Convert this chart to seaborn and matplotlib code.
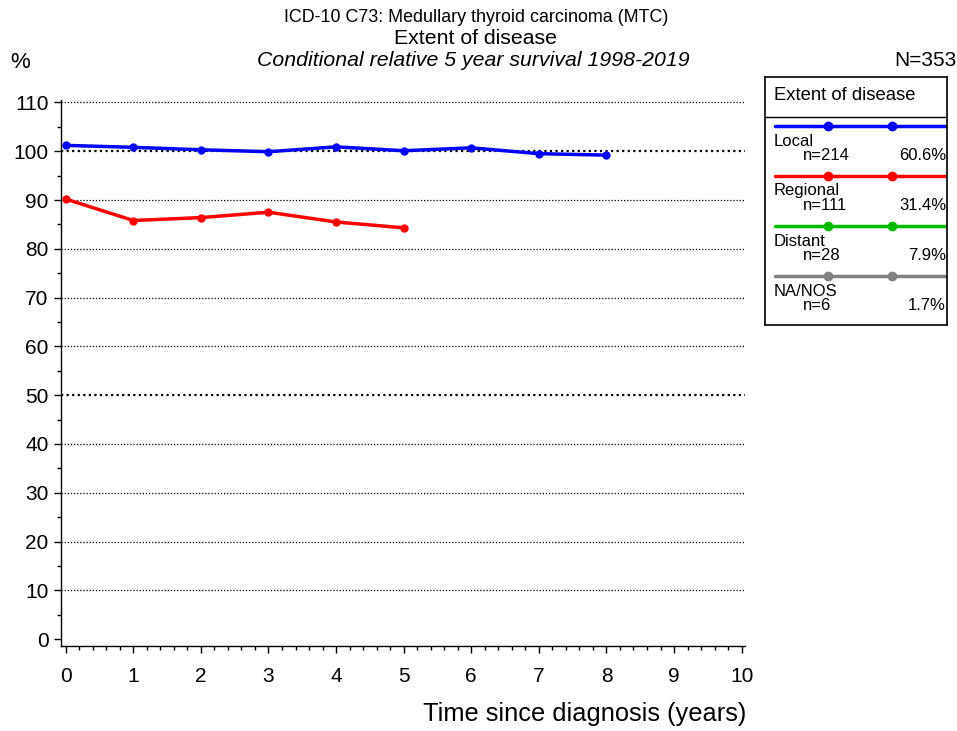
import pandas as pd
import matplotlib.pyplot as plt
import seaborn as sns
from matplotlib.ticker import MultipleLocator

# values
years = [0, 1, 2, 3, 4, 5, 6, 7, 8]
local = [101.2, 100.8, 100.3, 99.9, 100.9, 100.1, 100.7, 99.5, 99.2]
regional = [90.2, 85.8, 86.4, 87.5, 85.5, 84.3]

groups = ['Local', 'Regional', 'Distant', 'NA/NOS']
counts = [214, 111, 28, 6]
shares = ['60.6%', '31.4%', '7.9%', '1.7%']
colors = ['#0000ff', '#ff0000', '#00bb00', '#808080']

df = pd.concat([
    pd.DataFrame({'year': years, 'surv': local, 'group': 'Local'}),
    pd.DataFrame({'year': years[:len(regional)], 'surv': regional, 'group': 'Regional'}),
])

sns.set_style('white')
plt.rcParams['font.family'] = ['Liberation Sans', 'DejaVu Sans']
plt.rcParams['text.color'] = 'black'
plt.rcParams['xtick.color'] = 'black'
plt.rcParams['ytick.color'] = 'black'
plt.rcParams['axes.labelcolor'] = 'black'

fig = plt.figure(figsize=(9.57, 7.31), dpi=100)
ax = fig.add_axes([61 / 957, 85 / 731, 684 / 957, 546 / 731])

sns.lineplot(data=df, x='year', y='surv', hue='group',
             palette={'Local': colors[0], 'Regional': colors[1]},
             marker='o', markersize=6, markeredgewidth=0, linewidth=2.5,
             legend=False, ax=ax)

for y in range(10, 111, 10):
    lw = 1.6 if y in (50, 100) else 0.9
    ax.axhline(y, color='black', linestyle=(0, (1, 1.5)), linewidth=lw, zorder=0)

ax.set_xlim(-0.07, 10.05)
ax.set_ylim(-1.4, 110.5)
ax.xaxis.set_major_locator(MultipleLocator(1))
ax.xaxis.set_minor_locator(MultipleLocator(0.2))
ax.yaxis.set_major_locator(MultipleLocator(10))
ax.yaxis.set_minor_locator(MultipleLocator(5))
ax.tick_params(which='both', direction='out', color='black', labelsize=15)
ax.tick_params(which='major', length=5, width=1, bottom=True, left=True)
ax.tick_params(which='minor', length=3, width=1, bottom=True, left=True)
ax.tick_params(axis='x', pad=10)
ax.tick_params(axis='y', pad=4)
for s in ['top', 'right']:
    ax.spines[s].set_visible(False)
for s in ['left', 'bottom']:
    ax.spines[s].set_color('black')
    ax.spines[s].set_linewidth(1)
ax.set_xlabel('')
ax.set_ylabel('')

fig.text(476 / 957, 1 - 18 / 731, 'ICD-10 C73: Medullary thyroid carcinoma (MTC)', ha='center', va='center', fontsize=12.9)
fig.text(476 / 957, 1 - 39 / 731, 'Extent of disease', ha='center', va='center', fontsize=15.3)
fig.text(473 / 957, 1 - 60 / 731, 'Conditional relative 5 year survival 1998-2019', ha='center', va='center', fontsize=15.3, style='italic')
fig.text(10 / 957, 1 - 63 / 731, '%', ha='left', va='center', fontsize=16)
fig.text(956 / 957, 1 - 60 / 731, 'N=353', ha='right', va='center', fontsize=15)
fig.text(746 / 957, 1 - 714 / 731, 'Time since diagnosis (years)', ha='right', va='center', fontsize=18.3)

# legend box
lg = fig.add_axes([765 / 957, 1 - 325 / 731, 182 / 957, 248 / 731])
lg.set_xlim(0, 182)
lg.set_ylim(248, 0)
lg.set_xticks([])
lg.set_yticks([])
for s in lg.spines.values():
    s.set_color('black')
    s.set_linewidth(1.2)
lg.axhline(40, color='black', linewidth=1)
lg.text(9, 19, 'Extent of disease', va='center', ha='left', fontsize=13.3)
for i, (g, n, p, c) in enumerate(zip(groups, counts, shares, colors)):
    y0 = 49 + i * 50
    lg.plot([10, 180], [y0, y0], color=c, linewidth=2.5)
    lg.plot([63, 127], [y0, y0], color=c, linestyle='none', marker='o', markersize=6)
    lg.text(9, y0 + 15, g, va='center', ha='left', fontsize=12)
    lg.text(38, y0 + 29, 'n=%d' % n, va='center', ha='left', fontsize=12)
    lg.text(181, y0 + 29, p, va='center', ha='right', fontsize=12)

fig.savefig('out.png', dpi=100)
